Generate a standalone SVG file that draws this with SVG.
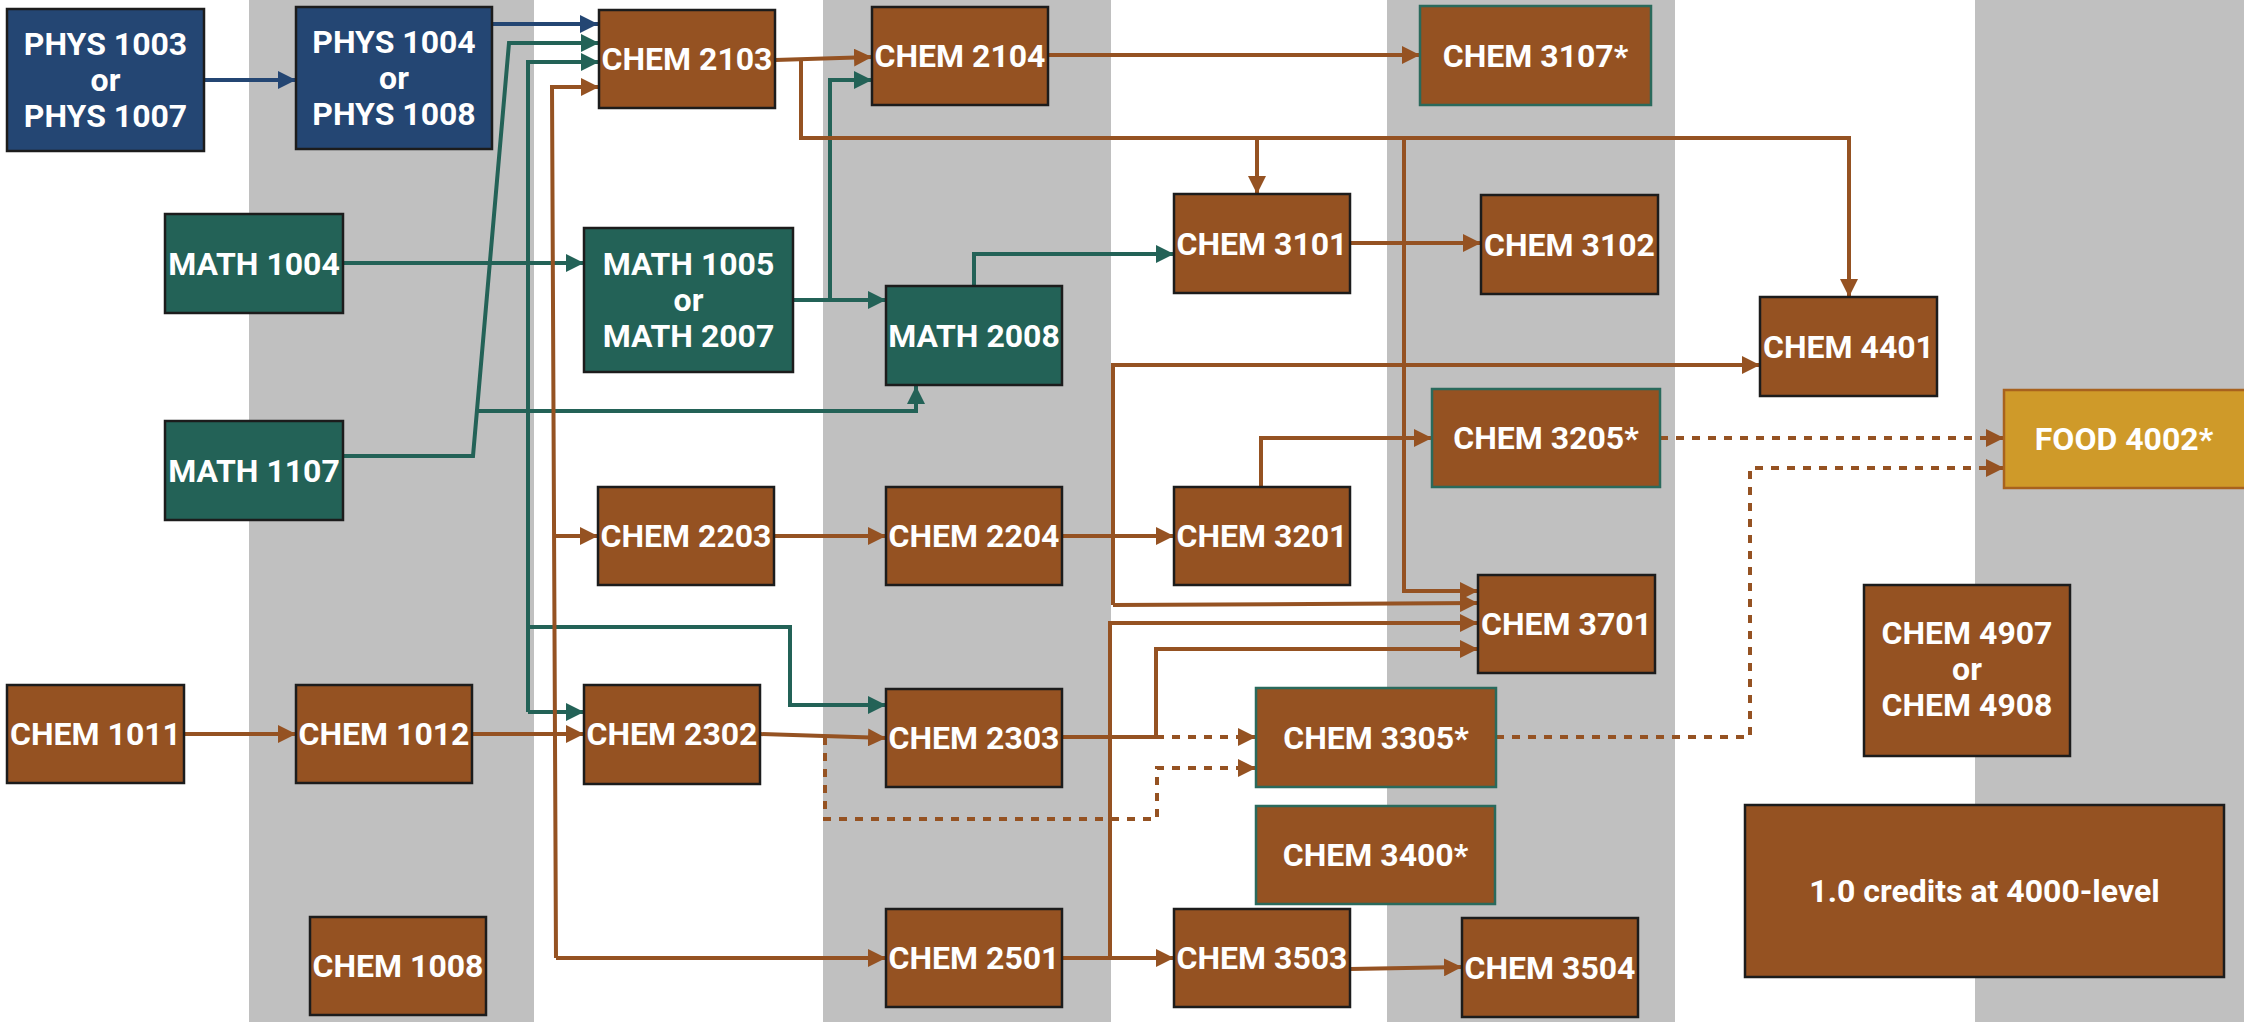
<svg xmlns="http://www.w3.org/2000/svg" width="2244" height="1022" viewBox="0 0 2244 1022">
<style>
.band{fill:#C0C0C0}
.box{stroke:#1c1c1c;stroke-width:2.5}
.chem{fill:#955222}
.math{fill:#236257}
.phys{fill:#244673}
.tb{stroke:#2a6a5c}
.food{fill:#CF9A29;stroke:#a8621e;stroke-width:2.5}
text{font-family:Roboto,"Liberation Sans",sans-serif;font-weight:bold;font-size:32px;fill:#fff;text-anchor:middle}
.c{fill:none;stroke-width:4;stroke-linejoin:miter}
.br{stroke:#955222}
.tl{stroke:#236257}
.nv{stroke:#244673}
.d{stroke-dasharray:8 8}
</style>
<defs>
<marker id="ab" markerUnits="userSpaceOnUse" markerWidth="18" markerHeight="18" refX="18" refY="9" orient="auto" viewBox="0 0 18 18"><path d="M0,0 L18,9 L0,18 z" fill="#955222"/></marker>
<marker id="at" markerUnits="userSpaceOnUse" markerWidth="18" markerHeight="18" refX="18" refY="9" orient="auto" viewBox="0 0 18 18"><path d="M0,0 L18,9 L0,18 z" fill="#236257"/></marker>
<marker id="an" markerUnits="userSpaceOnUse" markerWidth="18" markerHeight="18" refX="18" refY="9" orient="auto" viewBox="0 0 18 18"><path d="M0,0 L18,9 L0,18 z" fill="#244673"/></marker>
</defs>
<g id="bands">
<rect class="band" x="249" y="0" width="285" height="1022"/>
<rect class="band" x="823" y="0" width="288" height="1022"/>
<rect class="band" x="1387" y="0" width="288" height="1022"/>
<rect class="band" x="1975" y="0" width="269" height="1022"/>
</g>
<g id="connectors">
<path class="c nv" d="M204 80 H296" marker-end="url(#an)"/>
<path class="c nv" d="M492 24 H598" marker-end="url(#an)"/>
<path class="c tl" d="M343 263 H584" marker-end="url(#at)"/>
<path class="c tl" d="M528 712 V62 H599" marker-end="url(#at)"/>
<path class="c tl" d="M528 712 H584" marker-end="url(#at)"/>
<path class="c tl" d="M528 627 H790 V705 H886" marker-end="url(#at)"/>
<path class="c tl" d="M343 456 H473 L509 43 H599" marker-end="url(#at)"/>
<path class="c tl" d="M476 411 H916 V386" marker-end="url(#at)"/>
<path class="c tl" d="M793 300 H886" marker-end="url(#at)"/>
<path class="c tl" d="M830 300 V80 H872" marker-end="url(#at)"/>
<path class="c tl" d="M974 286 V254 H1174" marker-end="url(#at)"/>
<path class="c br" d="M184 734 H296" marker-end="url(#ab)"/>
<path class="c br" d="M472 734 H584" marker-end="url(#ab)"/>
<path class="c br" d="M556 958 L552 87 H599" marker-end="url(#ab)"/>
<path class="c br" d="M553 536 H598" marker-end="url(#ab)"/>
<path class="c br" d="M556 958 H886" marker-end="url(#ab)"/>
<path class="c br" d="M775 60 L872 57" marker-end="url(#ab)"/>
<path class="c br" d="M801 59 V138 H1849 V297" marker-end="url(#ab)"/>
<path class="c br" d="M1257 138 V194" marker-end="url(#ab)"/>
<path class="c br" d="M1404 139 V591 H1478" marker-end="url(#ab)"/>
<path class="c br" d="M1048 55 H1420" marker-end="url(#ab)"/>
<path class="c br" d="M1350 243 H1481" marker-end="url(#ab)"/>
<path class="c br" d="M774 536 H886" marker-end="url(#ab)"/>
<path class="c br" d="M1062 536 H1174" marker-end="url(#ab)"/>
<path class="c br" d="M1261 487 V438 H1432" marker-end="url(#ab)"/>
<path class="c br" d="M760 734 L886 738" marker-end="url(#ab)"/>
<path class="c br" d="M1062 737 H1156 V649 H1478" marker-end="url(#ab)"/>
<path class="c br d" d="M1156 737 H1256" marker-end="url(#ab)"/>
<path class="c br d" d="M825 737 V819 H1157 V768 H1256" marker-end="url(#ab)"/>
<path class="c br" d="M1062 958 H1174" marker-end="url(#ab)"/>
<path class="c br" d="M1110 958 V623 H1478" marker-end="url(#ab)"/>
<path class="c br" d="M1113 605 V365 H1760" marker-end="url(#ab)"/>
<path class="c br" d="M1113 605 L1478 603" marker-end="url(#ab)"/>
<path class="c br" d="M1350 969 L1462 967" marker-end="url(#ab)"/>
<path class="c br d" d="M1660 438 H2004" marker-end="url(#ab)"/>
<path class="c br d" d="M1496 737 H1750 V468 H2004" marker-end="url(#ab)"/>
</g>
<g id="phys1003"><rect class="box phys" x="7" y="9" width="197" height="142"/><text x="105.5" y="55">PHYS 1003</text><text x="105.5" y="91">or</text><text x="105.5" y="127">PHYS 1007</text></g>
<g id="phys1004"><rect class="box phys" x="296" y="7" width="196" height="142"/><text x="394" y="53">PHYS 1004</text><text x="394" y="89">or</text><text x="394" y="125">PHYS 1008</text></g>
<g id="chem2103"><rect class="box chem" x="599" y="10" width="176" height="98"/><text x="687" y="70">CHEM 2103</text></g>
<g id="chem2104"><rect class="box chem" x="872" y="7" width="176" height="98"/><text x="960" y="67">CHEM 2104</text></g>
<g id="chem3107"><rect class="box chem tb" x="1420" y="6" width="231" height="99"/><text x="1535.5" y="67">CHEM 3107*</text></g>
<g id="math1004"><rect class="box math" x="165" y="214" width="178" height="99"/><text x="254" y="275">MATH 1004</text></g>
<g id="math1005"><rect class="box math" x="584" y="228" width="209" height="144"/><text x="688.5" y="275">MATH 1005</text><text x="688.5" y="311">or</text><text x="688.5" y="347">MATH 2007</text></g>
<g id="chem3101"><rect class="box chem" x="1174" y="194" width="176" height="99"/><text x="1262" y="255">CHEM 3101</text></g>
<g id="chem3102"><rect class="box chem" x="1481" y="195" width="177" height="99"/><text x="1569.5" y="256">CHEM 3102</text></g>
<g id="math2008"><rect class="box math" x="886" y="286" width="176" height="99"/><text x="974" y="347">MATH 2008</text></g>
<g id="chem4401"><rect class="box chem" x="1760" y="297" width="177" height="99"/><text x="1848.5" y="358">CHEM 4401</text></g>
<g id="math1107"><rect class="box math" x="165" y="421" width="178" height="99"/><text x="254" y="482">MATH 1107</text></g>
<g id="chem3205"><rect class="box chem tb" x="1432" y="389" width="228" height="98"/><text x="1546" y="449">CHEM 3205*</text></g>
<g id="food4002"><rect class="food" x="2004" y="390" width="250" height="98"/><text x="2124" y="450">FOOD 4002*</text></g>
<g id="chem2203"><rect class="box chem" x="598" y="487" width="176" height="98"/><text x="686" y="547">CHEM 2203</text></g>
<g id="chem2204"><rect class="box chem" x="886" y="487" width="176" height="98"/><text x="974" y="547">CHEM 2204</text></g>
<g id="chem3201"><rect class="box chem" x="1174" y="487" width="176" height="98"/><text x="1262" y="547">CHEM 3201</text></g>
<g id="chem3701"><rect class="box chem" x="1478" y="575" width="177" height="98"/><text x="1566.5" y="635">CHEM 3701</text></g>
<g id="chem4907"><rect class="box chem" x="1864" y="585" width="206" height="171"/><text x="1967" y="644">CHEM 4907</text><text x="1967" y="680">or</text><text x="1967" y="716">CHEM 4908</text></g>
<g id="chem1011"><rect class="box chem" x="7" y="685" width="177" height="98"/><text x="95.5" y="745">CHEM 1011</text></g>
<g id="chem1012"><rect class="box chem" x="296" y="685" width="176" height="98"/><text x="384" y="745">CHEM 1012</text></g>
<g id="chem2302"><rect class="box chem" x="584" y="685" width="176" height="99"/><text x="672" y="745">CHEM 2302</text></g>
<g id="chem2303"><rect class="box chem" x="886" y="689" width="176" height="98"/><text x="974" y="749">CHEM 2303</text></g>
<g id="chem3305"><rect class="box chem tb" x="1256" y="688" width="240" height="99"/><text x="1376" y="749">CHEM 3305*</text></g>
<g id="chem3400"><rect class="box chem tb" x="1256" y="806" width="239" height="98"/><text x="1375.5" y="866">CHEM 3400*</text></g>
<g id="credits"><rect class="box chem" x="1745" y="805" width="479" height="172"/><text x="1984.5" y="902">1.0 credits at 4000-level</text></g>
<g id="chem2501"><rect class="box chem" x="886" y="909" width="176" height="98"/><text x="974" y="969">CHEM 2501</text></g>
<g id="chem3503"><rect class="box chem" x="1174" y="909" width="176" height="98"/><text x="1262" y="969">CHEM 3503</text></g>
<g id="chem3504"><rect class="box chem" x="1462" y="918" width="176" height="99"/><text x="1550" y="979">CHEM 3504</text></g>
<g id="chem1008"><rect class="box chem" x="310" y="917" width="176" height="98"/><text x="398" y="977">CHEM 1008</text></g>
</svg>
